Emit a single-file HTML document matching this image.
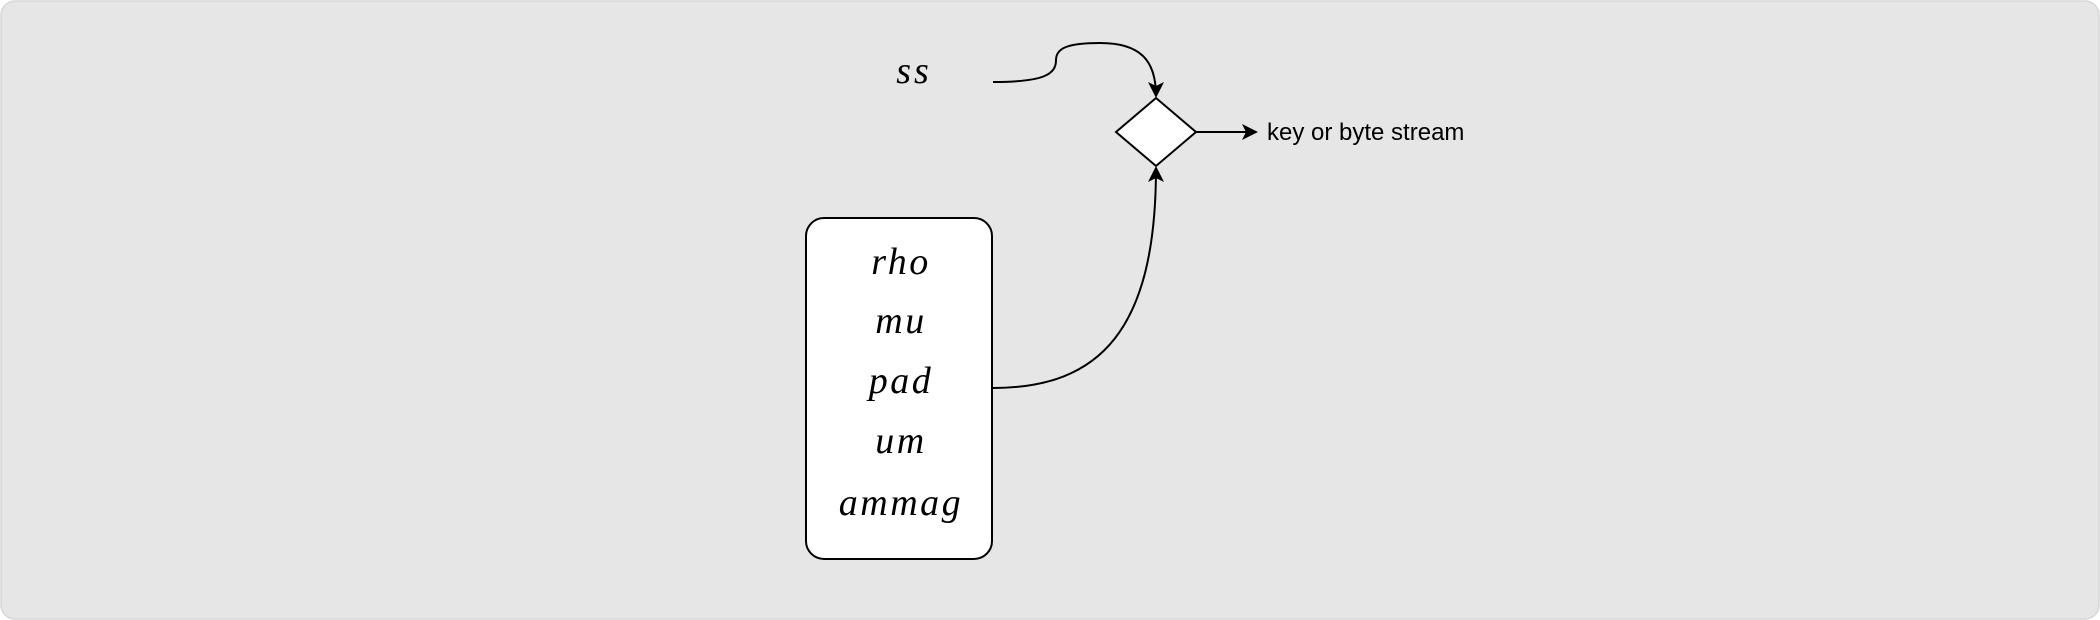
<!DOCTYPE html>
<html><head><style>
html,body{margin:0;padding:0;background:#fff;}
svg{display:block;}
</style></head><body>
<svg width="2100" height="620" viewBox="0 0 2100 620" xmlns="http://www.w3.org/2000/svg">
<defs>
<marker id="ah" markerWidth="16" markerHeight="16" refX="14" refY="8" orient="auto" markerUnits="userSpaceOnUse">
<path d="M0,0 L16,8 L0,16 L4,8 Z" fill="#000"/>
</marker>
</defs>
<rect x="1" y="1" width="2098" height="618" rx="14" fill="#e6e6e6" stroke="#d6d6d6" stroke-width="1.5"/>
<text x="914" y="83" font-family="Liberation Serif, serif" font-style="italic" font-size="38" letter-spacing="3" text-anchor="middle">ss</text>
<path d="M993,82 C1045,82 1056,74 1056,60 C1056,48 1068,43 1100,43 C1140,43 1156,60 1156,96" fill="none" stroke="#000" stroke-width="2" marker-end="url(#ah)"/>
<polygon points="1156,98 1196,132 1156,166 1116,132" fill="#fff" stroke="#000" stroke-width="2"/>
<path d="M1196,132 L1256,132" fill="none" stroke="#000" stroke-width="2" marker-end="url(#ah)"/>
<text x="1267" y="140" font-family="Liberation Sans, sans-serif" font-size="24">key or byte stream</text>
<rect x="806" y="218" width="186" height="341" rx="18" fill="#fff" stroke="#000" stroke-width="2"/>
<g font-family="Liberation Serif, serif" font-style="italic" font-size="38" letter-spacing="2.5" text-anchor="middle">
<text x="901" y="274">rho</text>
<text x="901" y="333">mu</text>
<text x="901" y="393">pad</text>
<text x="901" y="453">um</text>
<text x="901" y="515">ammag</text>
</g>
<path d="M993,388 C1100,388 1156,330 1156,168" fill="none" stroke="#000" stroke-width="2" marker-end="url(#ah)"/>
</svg>
</body></html>
